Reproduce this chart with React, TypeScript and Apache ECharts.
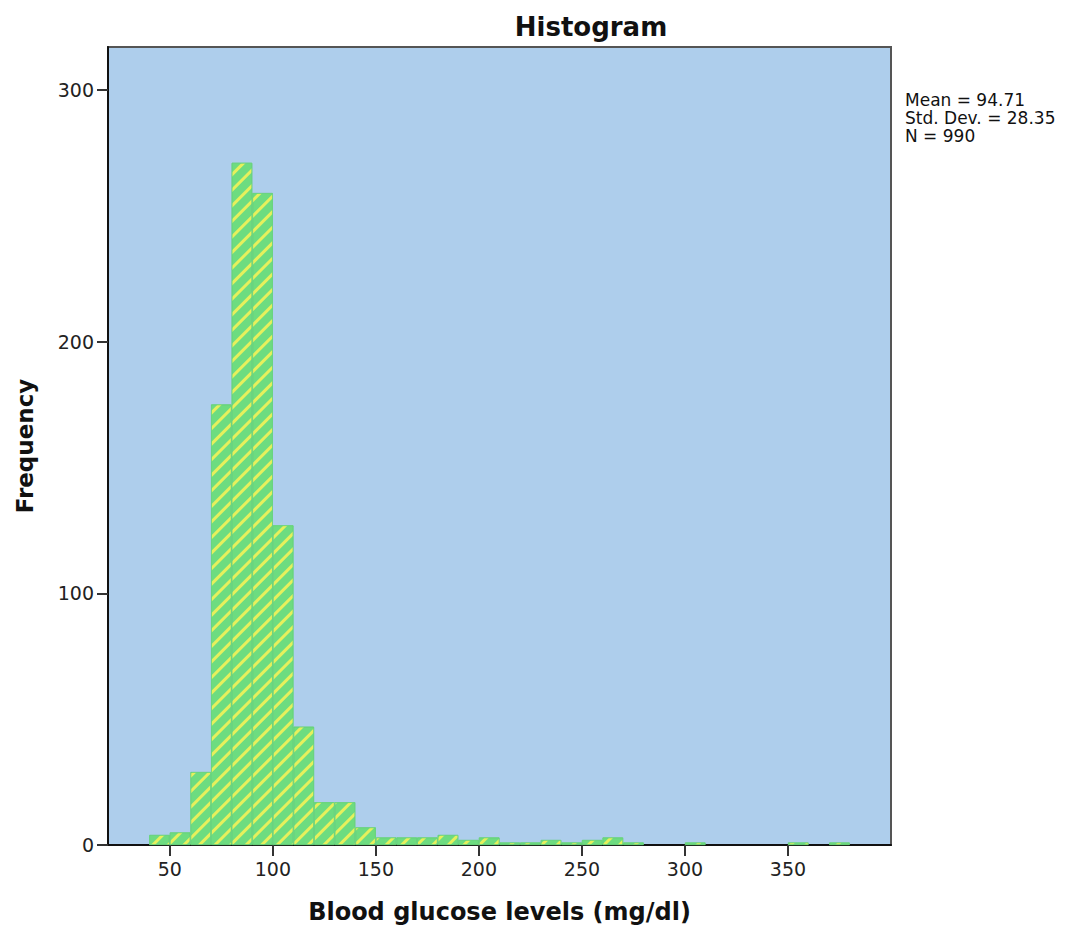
import React, { useEffect, useRef } from "react";
import * as echarts from "echarts";

const binWidth = 10;
const binStarts = [40, 50, 60, 70, 80, 90, 100, 110, 120, 130, 140, 150, 160, 170, 180, 190, 200, 210, 220, 230, 240, 250, 260, 270, 280, 290, 300, 310, 320, 330, 340, 350, 360, 370];
const counts = [4, 5, 29, 175, 271, 259, 127, 47, 17, 17, 7, 3, 3, 3, 4, 2, 3, 1, 1, 2, 1, 2, 3, 1, 0, 0, 1, 0, 0, 0, 0, 1, 0, 1];
const xTicks = [50, 100, 150, 200, 250, 300, 350];
const yTicks = [0, 100, 200, 300];
const xMin = 20;
const xMax = 400;
const yMax = 317;
const statMean = "94.71";
const statStd = "28.35";
const statN = "990";

const FONT = "DejaVu Sans";

export default function App() {
  const ref = useRef<HTMLDivElement>(null);
  useEffect(() => {
    if (!ref.current) return;
    const chart = echarts.init(ref.current, null, { renderer: "svg" });
    const data = binStarts
      .map((s, i) => [s + binWidth / 2, counts[i]])
      .filter((d) => d[1] > 0);
    chart.setOption({
      animation: false,
      backgroundColor: "#ffffff",
      title: {
        text: "Histogram",
        left: 586,
        top: 9,
        textAlign: "center",
        textStyle: { fontFamily: FONT, fontSize: 26, fontWeight: "bold", color: "#111" },
      },
      grid: {
        left: 108,
        top: 47,
        width: 783,
        height: 798,
        containLabel: false,
        outerBoundsMode: "none",
        show: true,
        backgroundColor: "#AECEEC",
        borderColor: "#555",
        borderWidth: 2,
      },
      xAxis: {
        type: "value",
        min: xMin,
        max: xMax,
        name: "Blood glucose levels (mg/dl)",
        nameLocation: "middle",
        nameGap: 55,
        nameTextStyle: { fontFamily: FONT, fontSize: 24, fontWeight: "bold", color: "#111" },
        splitLine: { show: false },
        axisLine: { show: true, lineStyle: { color: "#111", width: 2 } },
        axisTick: { show: true, customValues: xTicks, length: 11, lineStyle: { color: "#333", width: 2 } },
        axisLabel: { customValues: xTicks, fontFamily: FONT, fontSize: 19, color: "#222", margin: 14 },
      },
      yAxis: {
        type: "value",
        min: 0,
        max: yMax,
        name: "Frequency",
        nameLocation: "middle",
        nameGap: 72,
        nameRotate: 90,
        nameTextStyle: { fontFamily: FONT, fontSize: 23, fontWeight: "bold", color: "#111" },
        splitLine: { show: false },
        axisLine: { show: true, lineStyle: { color: "#111", width: 2 } },
        axisTick: { show: true, customValues: yTicks, length: 11, lineStyle: { color: "#333", width: 2 } },
        axisLabel: { customValues: yTicks, fontFamily: FONT, fontSize: 19, color: "#222", margin: 14 },
      },
      series: [
        {
          type: "bar",
          data,
          barWidth: "100%",
          barCategoryGap: "0%",
          itemStyle: {
            color: "#6DDC80",
            borderColor: "#68D37C",
            borderWidth: 0.8,
            decal: {
              symbol: "rect",
              color: "#E6F05C",
              dashArrayX: [1, 0],
              dashArrayY: [3, 8],
              rotation: -Math.PI / 4,
            },
          },
          emphasis: { disabled: true },
        },
      ],
      graphic: [
        {
          type: "text",
          left: 905,
          top: 91,
          style: {
            text: [`Mean = ${statMean}`, `Std. Dev. = ${statStd}`, `N = ${statN}`].join("\n"),
            font: `17px "${FONT}"`,
            lineHeight: 18,
            fill: "#111",
          },
        },
      ],
    });
    return () => chart.dispose();
  }, []);
  return (
    <div
      ref={ref}
      style={{ position: "absolute", left: 0, top: 0, width: 1086, height: 930 }}
    />
  );
}
